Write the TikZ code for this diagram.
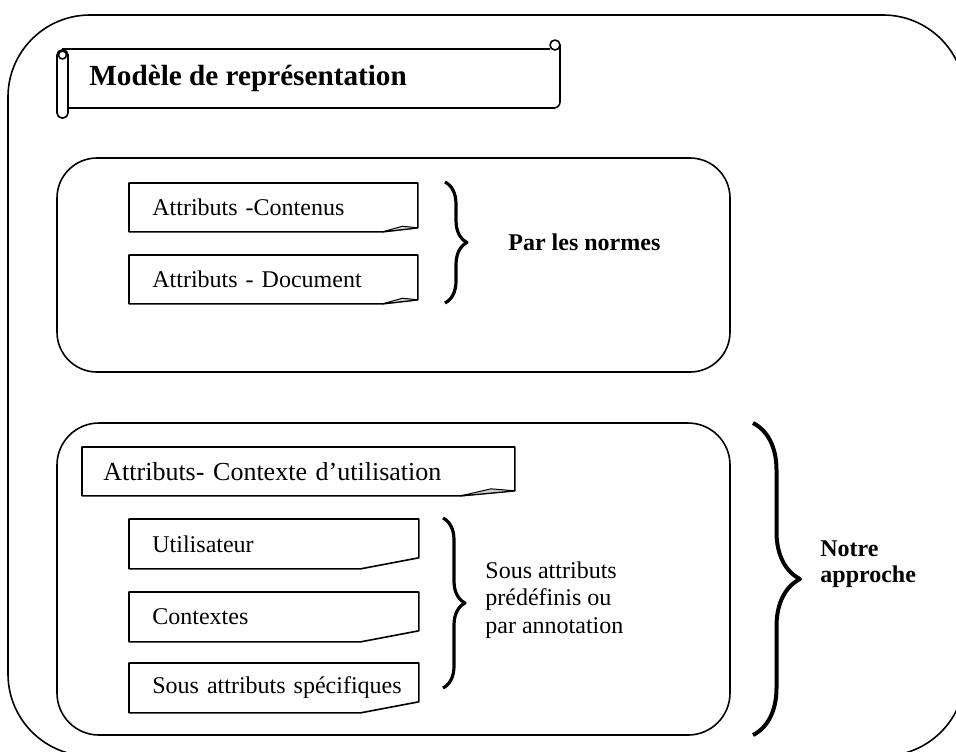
\documentclass[tikz,border=0pt]{standalone}
\usepackage{fontspec}
\setmainfont{Liberation Serif}
\usetikzlibrary{positioning,decorations.pathreplacing}

\begin{document}
\begin{tikzpicture}
  [x=0.5pt,y=-0.5pt,line join=round,
   frame/.style={draw=black,line width=0.8pt,rounded corners=#1},
   attr/.style={anchor=north west,inner xsep=0pt,inner ysep=0pt,align=left,
     execute at begin node={\hspace*{#1}},
     font=\fontsize{12}{13.8}\selectfont},
   attr/.default=11.5pt,
   lbl/.style={inner sep=0pt,align=left,font=\fontsize{12}{13.8}\selectfont},
   brc/.style={decorate,decoration={brace,amplitude=#1},line width=1.6pt}]
  \clip (0,0) rectangle (956,751);

  % outer frame
  \draw[frame=41pt] (8,15) rectangle (965,756);

  % banner
  \draw[line width=0.8pt] (62,49) -- (550,49);
  \draw[line width=0.8pt] (555,45) circle [radius=5];
  \draw[line width=0.8pt,rounded corners=3pt] (560,45) -- (560,108) -- (68,108);
  \draw[line width=0.8pt,fill=white,rounded corners=2.5pt] (57,50) rectangle (68,118);
  \draw[line width=0.8pt] (62.5,55) circle [radius=4];
  \node[inner sep=0pt,anchor=west,font=\fontsize{14.6}{16}\selectfont\bfseries] (titre) at (89,78) {Modèle de représentation};

  % the two groups
  \draw[frame=20pt] (57,158) rectangle (730,372);
  \draw[frame=21pt] (57,423) rectangle (730,735);

  \node[attr,text width=144pt,minimum height=24pt] (ac) at (129,183) {Attributs -Contenus};
  \node[attr,text width=144pt,minimum height=24pt] (ad) at (129,255) {Attributs - Document};
  \node[attr=10.5pt,text width=216pt,minimum height=24pt,
    font=\fontsize{13}{15}\selectfont] (ctx) at (82,447) {Attributs- Contexte d’utilisation};
  \node[attr,text width=144.5pt,minimum height=24.5pt] (ut) at (129,519) {Utilisateur};
  \node[attr,text width=144.5pt,minimum height=24.5pt] (co) at (129,592) {Contextes};
  \begin{scope}
    \clip (120,660) rectangle (430,697);
    \node[attr,text width=144.5pt,minimum height=24.5pt] (sa) at (129,663) {\raisebox{-1.8pt}{Sous attributs spécifiques}};
  \end{scope}

  \foreach \n/\fw/\fh in {ac/35/4,ad/35/4,ctx/54/5,ut/58/11,co/58/11,sa/58/11}
    \draw[line width=0.8pt] (\n.north west) -- (\n.north east) -- ([yshift=\fh*0.5pt]\n.south east)
      -- ([xshift=-\fw*0.5pt]\n.south east) -- (\n.south west) -- cycle;
  \foreach \n/\fw/\fh in {ac/35/4,ad/35/4,ctx/54/5}
    \draw[line width=0.5pt,fill=gray!40] ([xshift=-\fw*0.5pt]\n.south east)
      -- ([xshift=-\fw*0.22pt,yshift=\fh*0.7pt]\n.south east) -- ([yshift=\fh*0.5pt]\n.south east) -- cycle;

  % braces
  \coordinate (b1a) at (445,182);
  \coordinate (b1b) at (445,303);
  \coordinate (t1) at (467,242);
  \coordinate (b2a) at (443,518);
  \coordinate (b2b) at (443,688);
  \coordinate (t2) at (465,603);
  \coordinate (b3a) at (753,423);
  \coordinate (b3b) at (753,735);
  \coordinate (t3) at (800,580);
  \draw[brc=11pt] (b1a) -- (b1b);
  \draw[brc=11pt] (b2a) -- (b2b);
  \draw[brc=23.5pt,line width=2pt] (b3a) -- (b3b);

  \node[lbl,font=\fontsize{12}{13.8}\selectfont\bfseries,right=20.5pt of t1] (normes) {Par les normes};
  \node[lbl,right=10pt of t2,yshift=1.5pt] (sous) {Sous attributs\\prédéfinis ou\\par annotation};
  \node[lbl,font=\fontsize{12}{13}\selectfont\bfseries,right=10pt of t3,yshift=8pt] (notre) {Notre\\approche};
\end{tikzpicture}
\end{document}
